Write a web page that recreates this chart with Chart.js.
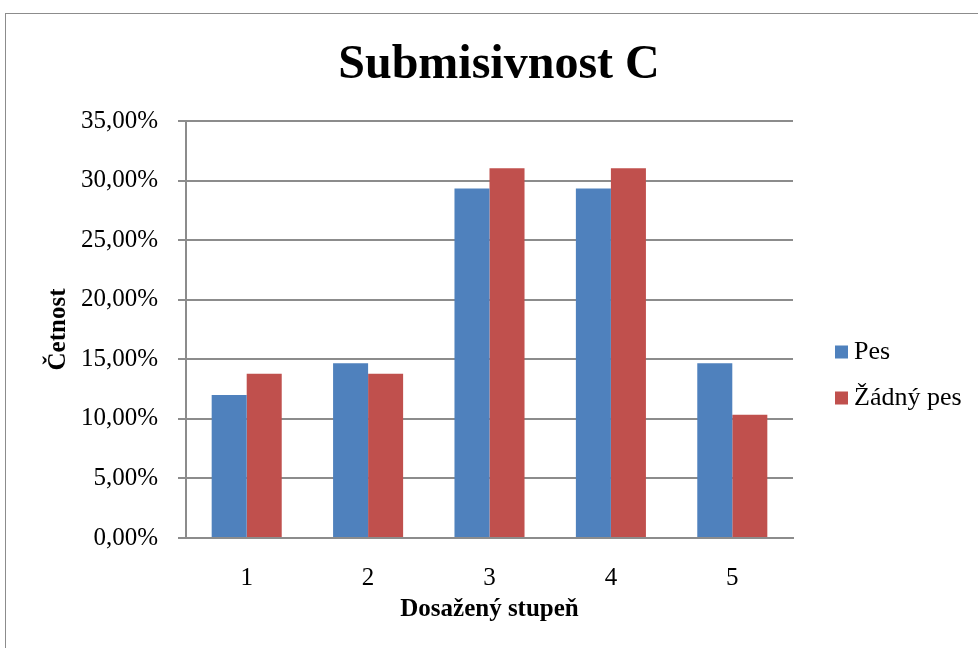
<!DOCTYPE html>
<html>
<head>
<meta charset="utf-8">
<script src="https://cdn.jsdelivr.net/npm/chart.js@4.4.1/dist/chart.umd.min.js"></script>
<style>
  html, body { margin: 0; padding: 0; background: #fff; }
  #wrap { position: relative; width: 978px; height: 648px; overflow: hidden; }
  #graf { position: absolute; left: 0; top: 0; }
</style>
</head>
<body>
<div id="wrap"><canvas id="graf" width="978" height="648"></canvas></div>
<script>
// dados do gráfico
const stupne = ['1', '2', '3', '4', '5'];
const pes = [12.00, 14.67, 29.33, 29.33, 14.67];
const zadnyPes = [13.79, 13.79, 31.03, 31.03, 10.34];
const nazvySerii = ['Pes', 'Žádný pes'];
const barvy = ['#4F81BD', '#C0504D'];

const pismo = '"Liberation Serif", "Times New Roman", Times, serif';
const sedaCara = '#8c8c8c';

// titulek, legenda a rámeček kreslené ručně
const doplnky = {
    id: 'doplnky',
    beforeDraw(chart) {
        const ctx = chart.ctx;
        ctx.save();
        ctx.strokeStyle = sedaCara;
        ctx.lineWidth = 1;
        ctx.strokeRect(5.5, 13.5, 1000, 700);
        ctx.restore();
    },
    afterDraw(chart) {
        const ctx = chart.ctx;
        const area = chart.chartArea;
        ctx.save();
        ctx.fillStyle = '#000';
        ctx.font = 'bold 48px ' + pismo;
        ctx.textAlign = 'center';
        ctx.textBaseline = 'alphabetic';
        ctx.fillText('Submisivnost C', 499, 78);

        // legenda vpravo
        ctx.font = '26px ' + pismo;
        ctx.textAlign = 'left';
        ctx.textBaseline = 'middle';
        const x0 = area.right + 42;
        const yStred = (area.top + area.bottom) / 2;
        chart.data.datasets.forEach((ds, i) => {
            const y = yStred + 22 + i * 46;
            ctx.fillStyle = ds.backgroundColor;
            ctx.fillRect(x0, y - 6, 13, 13);
            ctx.fillStyle = '#000';
            ctx.fillText(ds.label, x0 + 19, y + 1);
        });
        ctx.restore();
    }
};

new Chart(document.getElementById('graf'), {
    type: 'bar',
    data: {
        labels: stupne,
        datasets: [
            { label: nazvySerii[0], data: pes, backgroundColor: barvy[0] },
            { label: nazvySerii[1], data: zadnyPes, backgroundColor: barvy[1] }
        ]
    },
    options: {
        responsive: false,
        animation: false,
        devicePixelRatio: 1,
        layout: { padding: { top: 121, right: 185, bottom: 0, left: 0 } },
        datasets: { bar: { categoryPercentage: 0.577, barPercentage: 1.0, borderWidth: 0 } },
        plugins: {
            legend: { display: false },
            title: { display: false },
            tooltip: { enabled: false }
        },
        scales: {
            x: {
                grid: { display: false },
                border: { display: true, color: sedaCara, width: 2 },
                ticks: { color: '#000', font: { family: pismo, size: 25 }, padding: 17 },
                title: {
                    display: true, text: 'Dosažený stupeň', color: '#000',
                    font: { family: pismo, size: 25, weight: 'bold' },
                    padding: { top: 0, bottom: 23 }
                },
                afterFit(s) { s.height = 110; }
            },
            y: {
                min: 0, max: 35,
                ticks: {
                    stepSize: 5, color: '#000', padding: 20,
                    font: { family: pismo, size: 25 },
                    callback: v => v.toFixed(2).replace('.', ',') + '%'
                },
                grid: { color: sedaCara, lineWidth: 2, tickLength: 8 },
                border: { display: true, color: sedaCara, width: 2 },
                title: {
                    display: true, text: 'Četnost', color: '#000',
                    font: { family: pismo, size: 25, weight: 'bold' },
                    padding: { top: 44, bottom: 0 }
                },
                afterFit(s) { s.width = 186; }
            }
        }
    },
    plugins: [doplnky]
});
</script>
</body>
</html>
